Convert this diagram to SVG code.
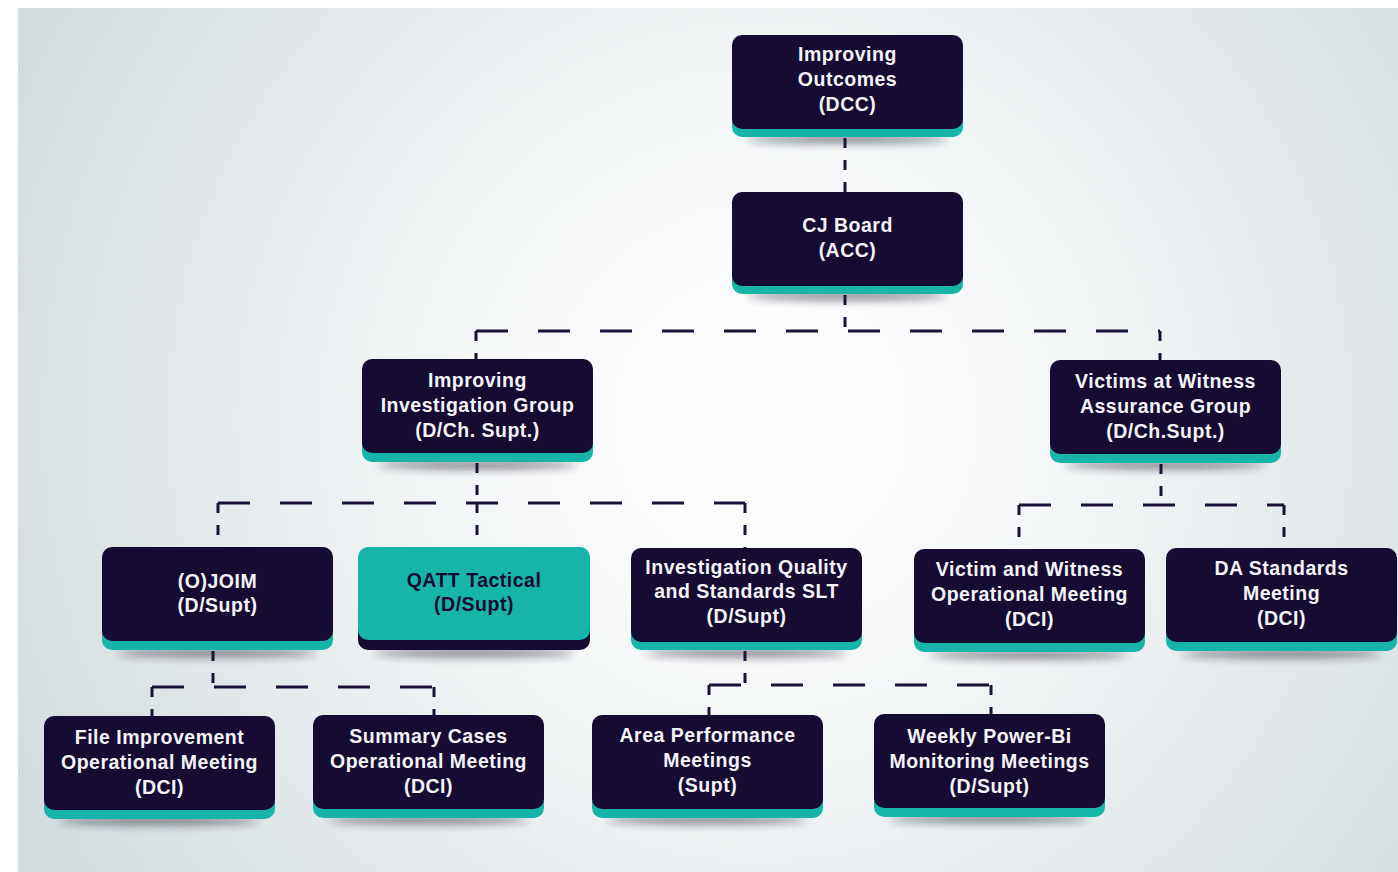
<svg xmlns="http://www.w3.org/2000/svg" width="1398" height="872" viewBox="0 0 1398 872">
<style>
.bg{fill:url(#bgGrad)}
.dk{fill:#160b33}
.tl{fill:#17b5a9}
.sh{fill:#1a1a2a;opacity:0.55;filter:url(#blur)}
.t{font-family:"Liberation Sans",Arial,sans-serif;font-weight:bold;font-size:19.5px;letter-spacing:0.5px;fill:#f4f4f8;text-anchor:middle}
.td{fill:#160b33}
.c{fill:none;stroke:#1c1238;stroke-width:3}
.h{stroke-dasharray:32 30}
.v{stroke-dasharray:10 12}
</style>
<defs>
<radialGradient id="bgGrad" gradientUnits="userSpaceOnUse" cx="760" cy="420" r="820">
<stop offset="0" stop-color="#ffffff"/>
<stop offset="0.45" stop-color="#f1f4f5"/>
<stop offset="1" stop-color="#d3dcdf"/>
</radialGradient>
<filter id="blur" x="-20%" y="-200%" width="140%" height="500%"><feGaussianBlur stdDeviation="4"/></filter>
</defs>
<rect width="1398" height="872" fill="#ffffff"/>
<rect class="bg" x="18" y="8" width="1380" height="864"/>

<g id="connectors">
<path class="c v" d="M845 138 V192"/>
<path class="c v" d="M845 295 V331"/>
<path class="c h" d="M476 331 H1160"/>
<path class="c v" d="M476 331 V359"/>
<path class="c v" d="M1160 331 V360"/>
<path class="c v" d="M477 463 V503"/>
<path class="c h" d="M218 503 H745"/>
<path class="c v" d="M218 503 V547"/>
<path class="c v" d="M477 503 V547"/>
<path class="c v" d="M745 503 V548"/>
<path class="c v" d="M1161 464 V505"/>
<path class="c h" d="M1019 505 H1284"/>
<path class="c v" d="M1019 505 V549"/>
<path class="c v" d="M1284 505 V548"/>
<path class="c v" d="M213 651 V687"/>
<path class="c h" d="M152 687 H434"/>
<path class="c v" d="M152 687 V716"/>
<path class="c v" d="M434 687 V715"/>
<path class="c v" d="M745 651 V685"/>
<path class="c h" d="M709 685 H991"/>
<path class="c v" d="M709 685 V715"/>
<path class="c v" d="M991 685 V714"/>
</g>

<g id="n-outcomes">
<ellipse class="sh" cx="847" cy="139" rx="100" ry="4"/>
<rect class="tl" x="732" y="43" width="231" height="94" rx="10"/>
<rect class="dk" x="732" y="35" width="231" height="94" rx="10"/>
<text class="t" x="847.5" y="61">Improving</text>
<text class="t" x="847.5" y="86">Outcomes</text>
<text class="t" x="847.5" y="111">(DCC)</text>
</g>

<g id="n-cjboard">
<ellipse class="sh" cx="847" cy="296" rx="100" ry="4"/>
<rect class="tl" x="732" y="200" width="231" height="94" rx="10"/>
<rect class="dk" x="732" y="192" width="231" height="94" rx="10"/>
<text class="t" x="847.5" y="232">CJ Board</text>
<text class="t" x="847.5" y="257">(ACC)</text>
</g>

<g id="n-iig">
<ellipse class="sh" cx="477" cy="465" rx="100" ry="4"/>
<rect class="tl" x="362" y="368" width="231" height="94" rx="10"/>
<rect class="dk" x="362" y="359" width="231" height="94" rx="10"/>
<text class="t" x="477.5" y="387">Improving</text>
<text class="t" x="477.5" y="412">Investigation Group</text>
<text class="t" x="477.5" y="437">(D/Ch. Supt.)</text>
</g>

<g id="n-vwag">
<ellipse class="sh" cx="1165" cy="465" rx="100" ry="4"/>
<rect class="tl" x="1050" y="369" width="231" height="94" rx="10"/>
<rect class="dk" x="1050" y="360" width="231" height="94" rx="10"/>
<text class="t" x="1165.5" y="388">Victims at Witness</text>
<text class="t" x="1165.5" y="413">Assurance Group</text>
<text class="t" x="1165.5" y="438">(D/Ch.Supt.)</text>
</g>

<g id="n-ojoim">
<ellipse class="sh" cx="217" cy="653" rx="100" ry="4"/>
<rect class="tl" x="102" y="556" width="231" height="94" rx="10"/>
<rect class="dk" x="102" y="547" width="231" height="94" rx="10"/>
<text class="t" x="217.5" y="588">(O)JOIM</text>
<text class="t" x="217.5" y="612">(D/Supt)</text>
</g>

<g id="n-qatt">
<ellipse class="sh" cx="474" cy="653" rx="100" ry="4"/>
<rect class="dk" x="358" y="556" width="232" height="94" rx="10"/>
<rect class="tl" x="358" y="547" width="232" height="93" rx="10"/>
<text class="t td" x="474" y="587">QATT Tactical</text>
<text class="t td" x="474" y="611">(D/Supt)</text>
</g>

<g id="n-iqs">
<ellipse class="sh" cx="746" cy="653" rx="100" ry="4"/>
<rect class="tl" x="631" y="556" width="231" height="94" rx="10"/>
<rect class="dk" x="631" y="548" width="231" height="94" rx="10"/>
<text class="t" x="746.5" y="574">Investigation Quality</text>
<text class="t" x="746.5" y="598">and Standards SLT</text>
<text class="t" x="746.5" y="623">(D/Supt)</text>
</g>

<g id="n-vwom">
<ellipse class="sh" cx="1029" cy="655" rx="100" ry="4"/>
<rect class="tl" x="914" y="558" width="231" height="94" rx="10"/>
<rect class="dk" x="914" y="549" width="231" height="94" rx="10"/>
<text class="t" x="1029.5" y="576">Victim and Witness</text>
<text class="t" x="1029.5" y="601">Operational Meeting</text>
<text class="t" x="1029.5" y="626">(DCI)</text>
</g>

<g id="n-da">
<ellipse class="sh" cx="1281" cy="654" rx="100" ry="4"/>
<rect class="tl" x="1166" y="557" width="231" height="94" rx="10"/>
<rect class="dk" x="1166" y="548" width="231" height="94" rx="10"/>
<text class="t" x="1281.5" y="575">DA Standards</text>
<text class="t" x="1281.5" y="600">Meeting</text>
<text class="t" x="1281.5" y="625">(DCI)</text>
</g>

<g id="n-file">
<ellipse class="sh" cx="159" cy="821" rx="100" ry="4"/>
<rect class="tl" x="44" y="725" width="231" height="94" rx="10"/>
<rect class="dk" x="44" y="716" width="231" height="94" rx="10"/>
<text class="t" x="159.5" y="744">File Improvement</text>
<text class="t" x="159.5" y="769">Operational Meeting</text>
<text class="t" x="159.5" y="794">(DCI)</text>
</g>

<g id="n-summary">
<ellipse class="sh" cx="428" cy="820" rx="100" ry="4"/>
<rect class="tl" x="313" y="724" width="231" height="94" rx="10"/>
<rect class="dk" x="313" y="715" width="231" height="94" rx="10"/>
<text class="t" x="428.5" y="743">Summary Cases</text>
<text class="t" x="428.5" y="768">Operational Meeting</text>
<text class="t" x="428.5" y="793">(DCI)</text>
</g>

<g id="n-area">
<ellipse class="sh" cx="707" cy="820" rx="100" ry="4"/>
<rect class="tl" x="592" y="724" width="231" height="94" rx="10"/>
<rect class="dk" x="592" y="715" width="231" height="94" rx="10"/>
<text class="t" x="707.5" y="742">Area Performance</text>
<text class="t" x="707.5" y="767">Meetings</text>
<text class="t" x="707.5" y="792">(Supt)</text>
</g>

<g id="n-weekly">
<ellipse class="sh" cx="989" cy="819" rx="100" ry="4"/>
<rect class="tl" x="874" y="723" width="231" height="94" rx="10"/>
<rect class="dk" x="874" y="714" width="231" height="94" rx="10"/>
<text class="t" x="989.5" y="743">Weekly Power-Bi</text>
<text class="t" x="989.5" y="768">Monitoring Meetings</text>
<text class="t" x="989.5" y="793">(D/Supt)</text>
</g>
</svg>
